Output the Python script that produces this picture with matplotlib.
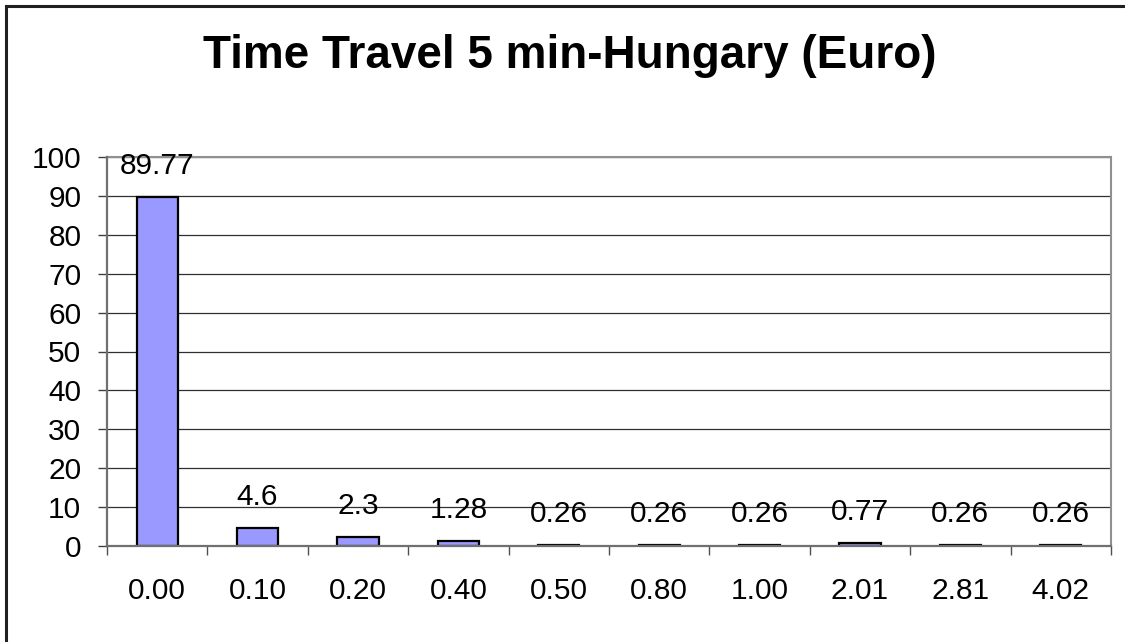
import matplotlib
matplotlib.use("Agg")
import matplotlib.pyplot as plt
from matplotlib.patches import Rectangle
import numpy as np

plt.rcParams['font.family'] = ['Liberation Sans', 'DejaVu Sans']

categories = ["0.00", "0.10", "0.20", "0.40", "0.50", "0.80", "1.00", "2.01", "2.81", "4.02"]
values = [89.77, 4.6, 2.3, 1.28, 0.26, 0.26, 0.26, 0.77, 0.26, 0.26]
value_labels = ["89.77", "4.6", "2.3", "1.28", "0.26", "0.26", "0.26", "0.77", "0.26", "0.26"]
yticks = [0, 10, 20, 30, 40, 50, 60, 70, 80, 90, 100]
title = "Time Travel 5 min-Hungary (Euro)"

W, H = 1125, 642
fig = plt.figure(figsize=(W / 100, H / 100), dpi=100)

# outer chart border
fig.patches.append(Rectangle((6 / W, -0.1), 1.2, (H - 6) / H + 0.1, transform=fig.transFigure,
                             fill=False, edgecolor='#202020', linewidth=2.2))

ax = fig.add_axes([107 / W, (H - 546) / H, (1111 - 107) / W, (546 - 157) / H])
x = np.arange(len(categories))
ax.bar(x, values, width=0.41, color='#9999FF', edgecolor='black', linewidth=1.6, zorder=3)

fs = 21.5
for xi, v, lab in zip(x, values, value_labels):
    ax.annotate(lab, (xi, v), xytext=(0, 16.6), textcoords='offset points',
                ha='center', va='baseline', fontsize=fs, color='black', zorder=4)

ax.set_xlim(-0.5, len(categories) - 0.5)
ax.set_ylim(0, 100)
ax.set_yticks(yticks)
ax.set_yticklabels([str(t) for t in yticks])
ax.set_xticks(x)
ax.set_xticklabels(categories)
ax.set_xticks(np.arange(-0.5, len(categories), 1.0), minor=True)

ax.tick_params(axis='y', direction='out', length=6.5, width=1, color='#404040',
               labelsize=fs, pad=12)
ax.tick_params(axis='x', which='major', length=0, labelsize=fs, pad=22)
ax.tick_params(axis='x', which='minor', direction='out', length=6.5, width=1, color='#505050')

ax.grid(axis='y', color='#303030', linewidth=0.9, zorder=0)
ax.set_axisbelow(True)

for side in ['left', 'bottom']:
    ax.spines[side].set_color('#707070')
    ax.spines[side].set_linewidth(1.6)
    ax.spines[side].set_zorder(5)
for side in ['right', 'top']:
    ax.spines[side].set_color('#909090')
    ax.spines[side].set_linewidth(1.5)

fig.text(570 / W, 1 - 56 / H, title, ha='center', va='center', fontsize=33, fontweight='bold')

fig.savefig("out.png", dpi=100)
